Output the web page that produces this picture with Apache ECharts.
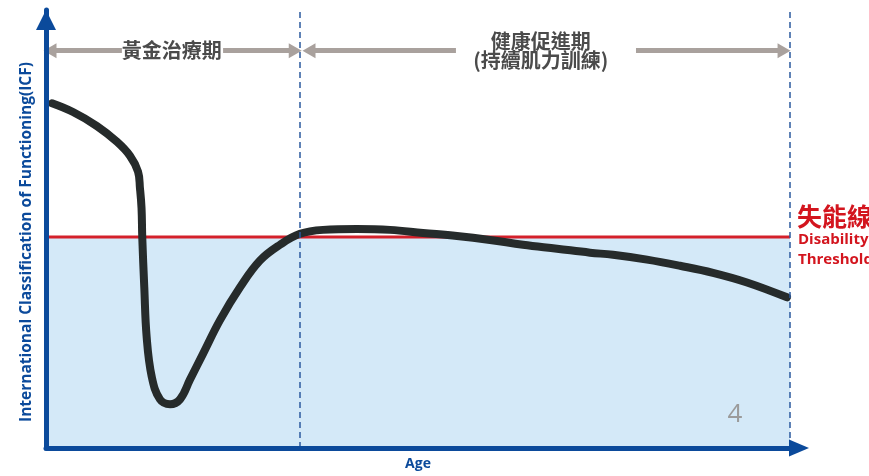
<!DOCTYPE html>
<html><head><meta charset="utf-8">
<script src="https://cdn.jsdelivr.net/npm/echarts@6/dist/echarts.min.js"></script>
<style>html,body{margin:0;padding:0;background:#fff}#c{width:869px;height:476px}</style>
</head><body><div id="c"></div>
<script>
// ---- data (arbitrary 0-100 units) ----
const ageValues = [0.81, 3.63, 6.85, 9.54, 11.29, 12.37, 12.63, 12.84, 12.94, 13.21, 13.53, 14.21, 15.32, 16.67, 18.01, 19.35, 21.10, 23.39, 26.08, 28.76, 31.45, 34.14, 37.23, 41.80, 46.24, 50.67, 55.24, 59.68, 64.11, 68.68, 73.12, 76.21, 80.78, 85.22, 89.65, 94.22, 99.60];
const icfValues = [78.7, 76.7, 73.5, 69.9, 66.7, 63.1, 59.3, 54.8, 48.0, 36.7, 25.3, 16.3, 11.1, 10.0, 11.1, 15.6, 21.5, 29.2, 36.7, 42.8, 46.4, 48.9, 49.8, 50.0, 49.8, 49.1, 48.4, 47.5, 46.4, 45.5, 44.6, 44.1, 43.0, 41.6, 40.0, 37.8, 34.4];
const thresholdValue = 48.2;
const phaseBoundaries = [34.1, 100];
const axisRange = [0, 100];
const phaseLabels = ['黃金治療期', '健康促進期', '(持續肌力訓練)'];
const thresholdLabels = ['失能線', 'Disability', 'Threshold'];
const pageLabel = '4';
const xAxisName = 'Age';
const yAxisName = 'International Classification of Functioning(ICF)';

const BLUE = '#0b4a9b';
const GRAY = '#a9a19d';
const RED = '#d3151e';
const CJK = '"Noto Sans CJK TC", "Noto Sans CJK SC", sans-serif';
const LAT = '"Open Sans", "Noto Sans", sans-serif';

const chart = echarts.init(document.getElementById('c'), null, {renderer: 'canvas'});

function arrowSeg(x1, x2, y, tipAtStart, tipAtEnd) {
  return [
    {coord: [x1, y], symbol: tipAtStart ? 'triangle' : 'none', symbolSize: [15, 13]},
    {coord: [x2, y], symbol: tipAtEnd ? 'triangle' : 'none', symbolSize: [15, 13]}
  ];
}
const arrowY = 90.7;

chart.setOption({
  animation: false,
  grid: {left: 46, right: 79, top: 10, bottom: 24, containLabel: false},
  xAxis: {
    type: 'value', min: axisRange[0], max: axisRange[1], z: 10,
    axisLine: {show: true, onZero: false, lineStyle: {color: BLUE, width: 5},
      symbol: ['none', 'triangle'], symbolSize: [17, 20], symbolOffset: [0, 9]},
    axisTick: {show: false}, axisLabel: {show: false}, splitLine: {show: false},
    name: xAxisName, nameLocation: 'middle', nameGap: 9,
    nameTextStyle: {color: BLUE, fontFamily: LAT, fontWeight: 'bold', fontSize: 14}
  },
  yAxis: {
    type: 'value', min: axisRange[0], max: axisRange[1], z: 10,
    axisLine: {show: true, onZero: false, lineStyle: {color: BLUE, width: 5},
      symbol: ['none', 'triangle'], symbolSize: [20, 20], symbolOffset: [0, -10]},
    axisTick: {show: false}, axisLabel: {show: false}, splitLine: {show: false},
    name: yAxisName, nameLocation: 'middle', nameGap: 11, nameRotate: 90,
    nameTextStyle: {color: BLUE, fontFamily: LAT, fontWeight: 'bold', fontSize: 15.5, padding: [0, 26, 0, 0]}
  },
  series: [
    {
      name: 'threshold', type: 'line', z: 1, silent: true, symbol: 'none',
      data: [[axisRange[0], thresholdValue], [axisRange[1], thresholdValue]],
      lineStyle: {color: '#d4202a', width: 3},
      areaStyle: {color: '#d4e9f8', opacity: 1, origin: 'start'},
      markLine: {
        silent: true, animation: false, label: {show: false},
        lineStyle: {color: GRAY, width: 5, type: 'solid'},
        data: [
          arrowSeg(0.54, 10.2, arrowY, true, false),
          arrowSeg(23.8, 33.5, arrowY, false, true),
          arrowSeg(35.35, 55.1, arrowY, true, false),
          arrowSeg(79.3, 99.2, arrowY, false, true)
        ]
      }
    },
    {
      name: 'ICF', type: 'line', z: 3, silent: true, symbol: 'none',
      smooth: 0.4,
      data: ageValues.map((a, i) => [a, icfValues[i]]),
      lineStyle: {color: '#262b2b', width: 8, cap: 'round', join: 'round'},
      markLine: {
        silent: true, animation: false, symbol: ['none', 'none'], label: {show: false},
        lineStyle: {color: '#2b5a9e', width: 1.5, type: [6, 4]},
        data: phaseBoundaries.map(v => ({xAxis: v}))
      }
    }
  ]
});

function px(x, y) { return chart.convertToPixel({gridIndex: 0}, [x, y]); }
const p1 = px(16.9, arrowY);
const p2 = px(66.5, 92.8);
const p3 = px(66.5, 88.5);
const pT = px(axisRange[1], thresholdValue);
const p4 = px(92.6, 7.6);

chart.setOption({
  graphic: [
    {type: 'text', x: p1[0], y: p1[1], z: 20, style: {text: phaseLabels[0], fill: '#4b4b4b', font: 'bold 20px ' + CJK, align: 'center', verticalAlign: 'middle'}},
    {type: 'text', x: p2[0], y: p2[1], z: 20, style: {text: phaseLabels[1], fill: '#4b4b4b', font: 'bold 20px ' + CJK, align: 'center', verticalAlign: 'middle'}},
    {type: 'text', x: p3[0], y: p3[1], z: 20, style: {text: phaseLabels[2], fill: '#4b4b4b', font: 'bold 20px ' + CJK, align: 'center', verticalAlign: 'middle'}},
    {type: 'text', x: pT[0] + 7, y: pT[1] - 20, z: 20, style: {text: thresholdLabels[0], fill: RED, font: 'bold 25px ' + CJK, align: 'left', verticalAlign: 'middle'}},
    {type: 'text', x: pT[0] + 8, y: pT[1] + 3, z: 20, style: {text: thresholdLabels[1], fill: RED, font: 'bold 15px ' + LAT, align: 'left', verticalAlign: 'middle'}},
    {type: 'text', x: pT[0] + 8, y: pT[1] + 23, z: 20, style: {text: thresholdLabels[2], fill: RED, font: 'bold 15px ' + LAT, align: 'left', verticalAlign: 'middle'}},
    {type: 'text', x: p4[0], y: p4[1], z: 20, style: {text: pageLabel, fill: '#9b9b9b', font: '26px ' + LAT, align: 'center', verticalAlign: 'middle'}}
  ]
});
</script>
</body></html>
